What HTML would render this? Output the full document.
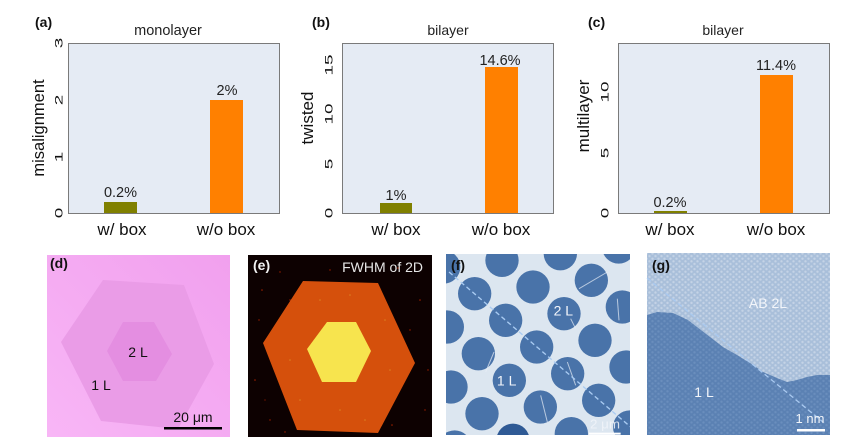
<!DOCTYPE html>
<html><head><meta charset="utf-8"><style>
html,body{margin:0;padding:0;background:#fff;}
svg{display:block;font-family:"Liberation Sans",Arial,sans-serif;}
</style></head><body>
<svg width="862" height="446" viewBox="0 0 862 446" xmlns="http://www.w3.org/2000/svg">
<defs>
<linearGradient id="pinkbg" x1="0" y1="1" x2="1" y2="0">
<stop offset="0" stop-color="#f8b6f6"/><stop offset="1" stop-color="#f1a0ee"/>
</linearGradient>
<pattern id="dotsUp" width="6" height="5.2" patternUnits="userSpaceOnUse">
<rect width="6" height="5.2" fill="#a9bfda"/>
<circle cx="1.5" cy="1.3" r="1.2" fill="#c4d3e6"/>
<circle cx="4.5" cy="3.9" r="1.2" fill="#c4d3e6"/>
</pattern>
<pattern id="dotsLo" width="6" height="5.2" patternUnits="userSpaceOnUse">
<rect width="6" height="5.2" fill="#5b81b3"/>
<circle cx="1.5" cy="1.3" r="1.2" fill="#6a8ebd"/>
<circle cx="4.5" cy="3.9" r="1.2" fill="#6a8ebd"/>
</pattern>
<clipPath id="clipf"><rect x="6" y="6" width="552" height="543"/></clipPath>
</defs>

<!-- ===== Panel (a) ===== -->
<text x="35" y="27" font-size="14" font-weight="bold" fill="#111">(a)</text>
<text x="168" y="35" font-size="14.5" text-anchor="middle" fill="#222">monolayer</text>
<rect x="68.5" y="43.5" width="211" height="170" fill="#e5ebf4" stroke="#7a7a7a" stroke-width="1"/>
<rect x="104" y="202" width="33" height="11" fill="#808000"/>
<rect x="210" y="100" width="33" height="113" fill="#ff8000"/>
<text x="120.5" y="197" font-size="14.5" text-anchor="middle" fill="#222">0.2%</text>
<text x="227" y="95" font-size="14.5" text-anchor="middle" fill="#222">2%</text>
<g font-size="14" fill="#111" text-anchor="middle">
<text transform="translate(62.5,43) rotate(-90) scale(1.35,0.78)">3</text>
<text transform="translate(62.5,100) rotate(-90) scale(1.35,0.78)">2</text>
<text transform="translate(62.5,157) rotate(-90) scale(1.35,0.78)">1</text>
<text transform="translate(62.5,213) rotate(-90) scale(1.35,0.78)">0</text>
</g>
<text transform="translate(44,128) rotate(-90)" font-size="16.5" text-anchor="middle" fill="#111">misalignment</text>
<text x="122" y="235" font-size="17" text-anchor="middle" fill="#111">w/ box</text>
<text x="226" y="235" font-size="17" text-anchor="middle" fill="#111">w/o box</text>

<!-- ===== Panel (b) ===== -->
<text x="312" y="27" font-size="14" font-weight="bold" fill="#111">(b)</text>
<text x="448" y="35" font-size="14" text-anchor="middle" fill="#222">bilayer</text>
<rect x="342.5" y="43.5" width="211" height="170" fill="#e5ebf4" stroke="#7a7a7a" stroke-width="1"/>
<rect x="380" y="203" width="32" height="10" fill="#808000"/>
<rect x="485" y="67" width="33" height="146" fill="#ff8000"/>
<text x="396" y="200" font-size="14.5" text-anchor="middle" fill="#222">1%</text>
<text x="500" y="65" font-size="14.5" text-anchor="middle" fill="#222">14.6%</text>
<g font-size="14" fill="#111" text-anchor="middle">
<text transform="translate(332.5,65) rotate(-90) scale(1.35,0.78)">15</text>
<text transform="translate(332.5,114) rotate(-90) scale(1.35,0.78)">10</text>
<text transform="translate(332.5,164) rotate(-90) scale(1.35,0.78)">5</text>
<text transform="translate(332.5,213) rotate(-90) scale(1.35,0.78)">0</text>
</g>
<text transform="translate(313,118) rotate(-90)" font-size="17" text-anchor="middle" fill="#111">twisted</text>
<text x="396" y="235" font-size="17" text-anchor="middle" fill="#111">w/ box</text>
<text x="501" y="235" font-size="17" text-anchor="middle" fill="#111">w/o box</text>

<!-- ===== Panel (c) ===== -->
<text x="588" y="27" font-size="14" font-weight="bold" fill="#111">(c)</text>
<text x="723" y="35" font-size="14" text-anchor="middle" fill="#222">bilayer</text>
<rect x="618.5" y="43.5" width="211" height="170" fill="#e5ebf4" stroke="#7a7a7a" stroke-width="1"/>
<rect x="654" y="211" width="33" height="2" fill="#808000"/>
<rect x="760" y="75" width="33" height="138" fill="#ff8000"/>
<text x="670" y="207" font-size="14.5" text-anchor="middle" fill="#222">0.2%</text>
<text x="776" y="70" font-size="14.5" text-anchor="middle" fill="#222">11.4%</text>
<g font-size="14" fill="#111" text-anchor="middle">
<text transform="translate(608.5,92) rotate(-90) scale(1.35,0.78)">10</text>
<text transform="translate(608.5,153) rotate(-90) scale(1.35,0.78)">5</text>
<text transform="translate(608.5,213) rotate(-90) scale(1.35,0.78)">0</text>
</g>
<text transform="translate(589,116) rotate(-90)" font-size="17" text-anchor="middle" fill="#111">multilayer</text>
<text x="670" y="235" font-size="17" text-anchor="middle" fill="#111">w/ box</text>
<text x="776" y="235" font-size="17" text-anchor="middle" fill="#111">w/o box</text>

<!-- ===== Panel (d) ===== -->
<rect x="47" y="255" width="183" height="182" fill="url(#pinkbg)"/>
<polygon points="103,280 184,285 214,364 178,429 101,421 61,342" fill="#ea9ce7"/>
<polygon points="123,322 154,322 172,354 156,381 123,381 107,351" fill="#e48ee1"/>
<text x="50" y="268" font-size="14" font-weight="bold" fill="#111">(d)</text>
<text x="138" y="357" font-size="14" text-anchor="middle" fill="#111">2 L</text>
<text x="101" y="390" font-size="14" text-anchor="middle" fill="#111">1 L</text>
<text x="193" y="422" font-size="14" text-anchor="middle" fill="#111">20 μm</text>
<rect x="164" y="427" width="58" height="2.5" fill="#000"/>

<!-- ===== Panel (e) ===== -->
<rect x="248" y="255" width="184" height="182" fill="#0d0101"/>
<g fill="#a02000">
<circle cx="262" cy="290" r="0.8"/><circle cx="280" cy="272" r="0.7"/><circle cx="255" cy="380" r="0.8"/>
<circle cx="270" cy="420" r="0.7"/><circle cx="420" cy="300" r="0.8"/><circle cx="425" cy="410" r="0.7"/>
<circle cx="398" cy="268" r="0.8"/><circle cx="290" cy="300" r="0.7"/><circle cx="410" cy="330" r="0.7"/>
<circle cx="259" cy="320" r="0.7"/><circle cx="392" cy="425" r="0.8"/><circle cx="285" cy="432" r="0.7"/>
<circle cx="330" cy="270" r="0.7"/><circle cx="265" cy="400" r="0.6"/><circle cx="428" cy="370" r="0.7"/>
</g>
<polygon points="303,281 378,283 415,363 378,433 297,430 263,343" fill="#d5500c"/>
<polygon points="327,322 356,322 371,351 356,382 322,382 307,349" fill="#f7e44e"/>
<g fill="#e0a030" opacity="0.6">
<circle cx="320" cy="300" r="0.8"/><circle cx="350" cy="295" r="0.8"/><circle cx="290" cy="360" r="0.8"/>
<circle cx="390" cy="370" r="0.8"/><circle cx="340" cy="410" r="0.8"/><circle cx="300" cy="400" r="0.8"/>
<circle cx="385" cy="320" r="0.8"/><circle cx="365" cy="420" r="0.8"/>
</g>
<text x="253" y="270" font-size="14" font-weight="bold" fill="#f2f2f2">(e)</text>
<text x="423" y="272" font-size="14" text-anchor="end" fill="#e6e6e6">FWHM of 2D</text>

<!-- ===== Panel (f) ===== -->
<svg x="444" y="252" width="188" height="186" viewBox="0 0 564 558">
<g clip-path="url(#clipf)">
<rect x="6" y="6" width="552" height="543" fill="#dce6f0"/>
<g fill="#4973a9">
<circle cx="-1" cy="45" r="50"/><circle cx="174" cy="25" r="50"/><circle cx="349" cy="5" r="50"/><circle cx="524" cy="-15" r="50"/>
<circle cx="92" cy="125" r="50"/><circle cx="267" cy="105" r="50"/><circle cx="442" cy="85" r="50"/>
<circle cx="10" cy="225" r="50"/><circle cx="185" cy="205" r="50"/><circle cx="360" cy="185" r="50"/><circle cx="535" cy="165" r="50"/>
<circle cx="103" cy="305" r="50"/><circle cx="278" cy="285" r="50"/><circle cx="453" cy="265" r="50"/>
<circle cx="21" cy="405" r="50"/><circle cx="196" cy="385" r="50"/><circle cx="371" cy="365" r="50"/><circle cx="546" cy="345" r="50"/>
<circle cx="114" cy="485" r="50"/><circle cx="289" cy="465" r="50"/><circle cx="464" cy="445" r="50"/>
<circle cx="32" cy="585" r="50"/><circle cx="382" cy="545" r="50"/><circle cx="557" cy="525" r="50"/>
<circle cx="207" cy="565" r="50" fill="#2f5a95"/>
</g>
<g stroke="#e8eef6" stroke-width="3" opacity="0.7" fill="none">
<line x1="405" y1="110" x2="490" y2="60"/>
<line x1="290" y1="430" x2="310" y2="510"/>
<line x1="150" y1="300" x2="125" y2="360"/>
<line x1="370" y1="330" x2="395" y2="400"/>
<line x1="380" y1="200" x2="395" y2="230"/>
<line x1="520" y1="140" x2="525" y2="205"/>
</g>
<line x1="15" y1="60" x2="560" y2="525" stroke="#a9cbf2" stroke-width="4" stroke-dasharray="14 9"/>
</g>
<text x="21" y="54" font-size="42" font-weight="bold" fill="#111">(f)</text>
<text x="358" y="190" font-size="42" text-anchor="middle" fill="#f2f5fa">2 L</text>
<text x="188" y="400" font-size="42" text-anchor="middle" fill="#f2f5fa">1 L</text>
<text x="483" y="530" font-size="40" text-anchor="middle" fill="#f2f5fa" opacity="0.85">2 μm</text>
<rect x="435" y="542" width="95" height="6" fill="#ffffff"/>
</svg>

<!-- ===== Panel (g) ===== -->
<rect x="647" y="253" width="183" height="182" fill="url(#dotsUp)"/>
<polygon points="647,315 657,312 673,313 688,320 697,327 710,337 723,347 737,355 750,363 763,372 777,378 787,382 797,380 807,377 817,375 830,375 830,435 647,435" fill="url(#dotsLo)"/>
<line x1="647" y1="278" x2="823" y2="422" stroke="#a9c9f0" stroke-width="1.3" stroke-dasharray="5 3"/>
<text x="652" y="270" font-size="14" font-weight="bold" fill="#111">(g)</text>
<text x="768" y="308" font-size="14" text-anchor="middle" fill="#f2f5fa">AB 2L</text>
<text x="704" y="397" font-size="14" text-anchor="middle" fill="#f2f5fa">1 L</text>
<text x="810" y="423" font-size="13" text-anchor="middle" fill="#f2f5fa">1 nm</text>
<rect x="797" y="429" width="28" height="2.5" fill="#ffffff"/>
</svg>
</body></html>
